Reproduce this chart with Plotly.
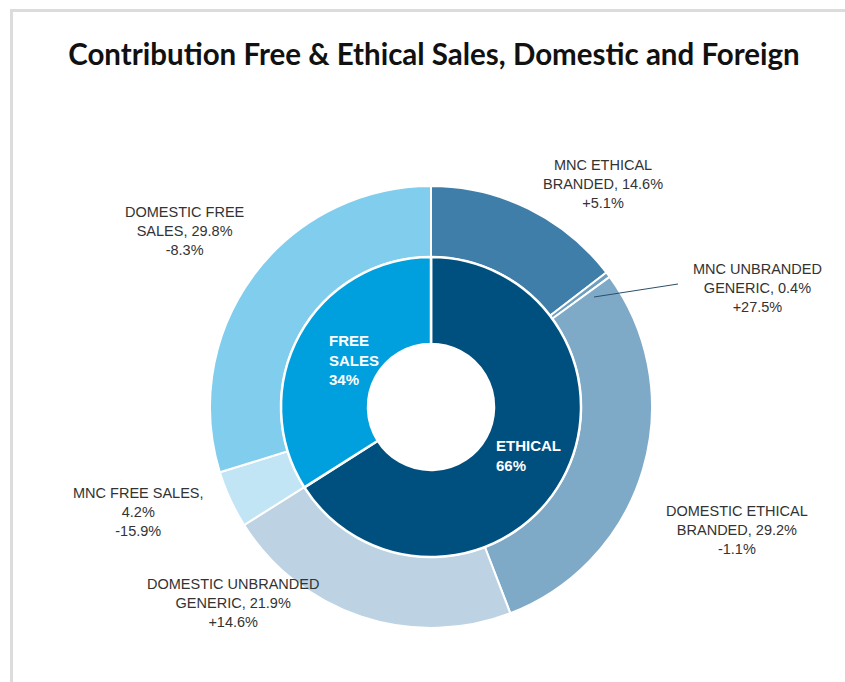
import plotly.graph_objects as go

W, H = 845, 682

# ---- data ----
inner_labels = ["ETHICAL", "FREE SALES"]
inner_values = [66, 34]
inner_colors = ["#00507f", "#00a0de"]

outer_labels = ["MNC ETHICAL BRANDED", "MNC UNBRANDED GENERIC", "DOMESTIC ETHICAL BRANDED",
                "DOMESTIC UNBRANDED GENERIC", "MNC FREE SALES", "DOMESTIC FREE SALES"]
outer_values = [14.6, 0.4, 29.2, 21.9, 4.2, 29.8]
outer_growth = ["+5.1%", "+27.5%", "-1.1%", "+14.6%", "-15.9%", "-8.3%"]
outer_colors = ["#3f7ea8", "#6f9fc0", "#7eaac8", "#bdd3e3", "#c2e5f5", "#80cdee"]

# label text blocks (line breaks as in the reference)
outer_text = [
    "MNC ETHICAL<br>BRANDED, 14.6%<br>+5.1%",
    "MNC UNBRANDED<br>GENERIC, 0.4%<br>+27.5%",
    "DOMESTIC ETHICAL<br>BRANDED, 29.2%<br>-1.1%",
    "DOMESTIC UNBRANDED<br>GENERIC, 21.9%<br>+14.6%",
    "MNC FREE SALES,<br>4.2%<br>-15.9%",
    "DOMESTIC FREE<br>SALES, 29.8%<br>-8.3%",
]
inner_text = ["<b>ETHICAL<br>66%</b>", "<b>FREE<br>SALES<br>34%</b>"]


def px(x):
    return x / W


def py(y):
    return 1 - y / H


cx, cy = 431, 407
R_out, R_in, R_hole = 221, 150, 63

fig = go.Figure()
fig.add_trace(go.Pie(
    values=outer_values, labels=outer_labels, sort=False, direction="clockwise", rotation=0,
    hole=R_in / R_out, textinfo="none", hoverinfo="label+percent",
    marker=dict(colors=outer_colors, line=dict(color="white", width=2)),
    domain=dict(x=[px(cx - R_out), px(cx + R_out)], y=[py(cy + R_out), py(cy - R_out)]),
    showlegend=False,
))
fig.add_trace(go.Pie(
    values=inner_values, labels=inner_labels, sort=False, direction="clockwise", rotation=0,
    hole=R_hole / R_in, textinfo="none", hoverinfo="label+percent",
    marker=dict(colors=inner_colors, line=dict(color="white", width=2.5)),
    domain=dict(x=[px(cx - R_in), px(cx + R_in)], y=[py(cy + R_in), py(cy - R_in)]),
    showlegend=False,
))

label_font = dict(family="Liberation Sans", size=14.5, color="#333333")
outer_pos = [(603, 184), (757, 288), (737, 530), (233, 603), (138, 512), (185, 231)]
for t, (x, y) in zip(outer_text, outer_pos):
    fig.add_annotation(x=px(x), y=py(y), xref="paper", yref="paper", text=t,
                       showarrow=False, align="center", font=label_font,
                       xanchor="center", yanchor="middle")

inner_font = dict(family="Liberation Sans", size=15, color="white")
inner_pos = [(494, 455), (327, 360)]
for t, (x, y) in zip(inner_text, inner_pos):
    fig.add_annotation(x=px(x), y=py(y), xref="paper", yref="paper", text=t,
                       showarrow=False, align="left", font=inner_font,
                       xanchor="left", yanchor="middle")

shapes = [
    # leader line for the small slice
    dict(type="line", xref="paper", yref="paper", x0=px(594), y0=py(297), x1=px(678), y1=py(284),
         line=dict(color="#2b4f6a", width=1)),
    # frame lines
    dict(type="line", xref="paper", yref="paper", x0=px(10), y0=py(10.5), x1=1, y1=py(10.5),
         line=dict(color="#dcdcdc", width=3)),
    dict(type="line", xref="paper", yref="paper", x0=px(11.5), y0=py(10), x1=px(11.5), y1=0,
         line=dict(color="#dcdcdc", width=3)),
]

fig.update_layout(
    width=W, height=H,
    margin=dict(l=0, r=0, t=0, b=0),
    paper_bgcolor="white", plot_bgcolor="white",
    title=dict(text="<b>Contribution Free & Ethical Sales, Domestic and Foreign</b>",
               x=px(434), y=py(55), xanchor="center", yanchor="middle",
               font=dict(family="Lato", size=29.5, color="#111111")),
    shapes=shapes,
)

fig.write_html("out.html")
